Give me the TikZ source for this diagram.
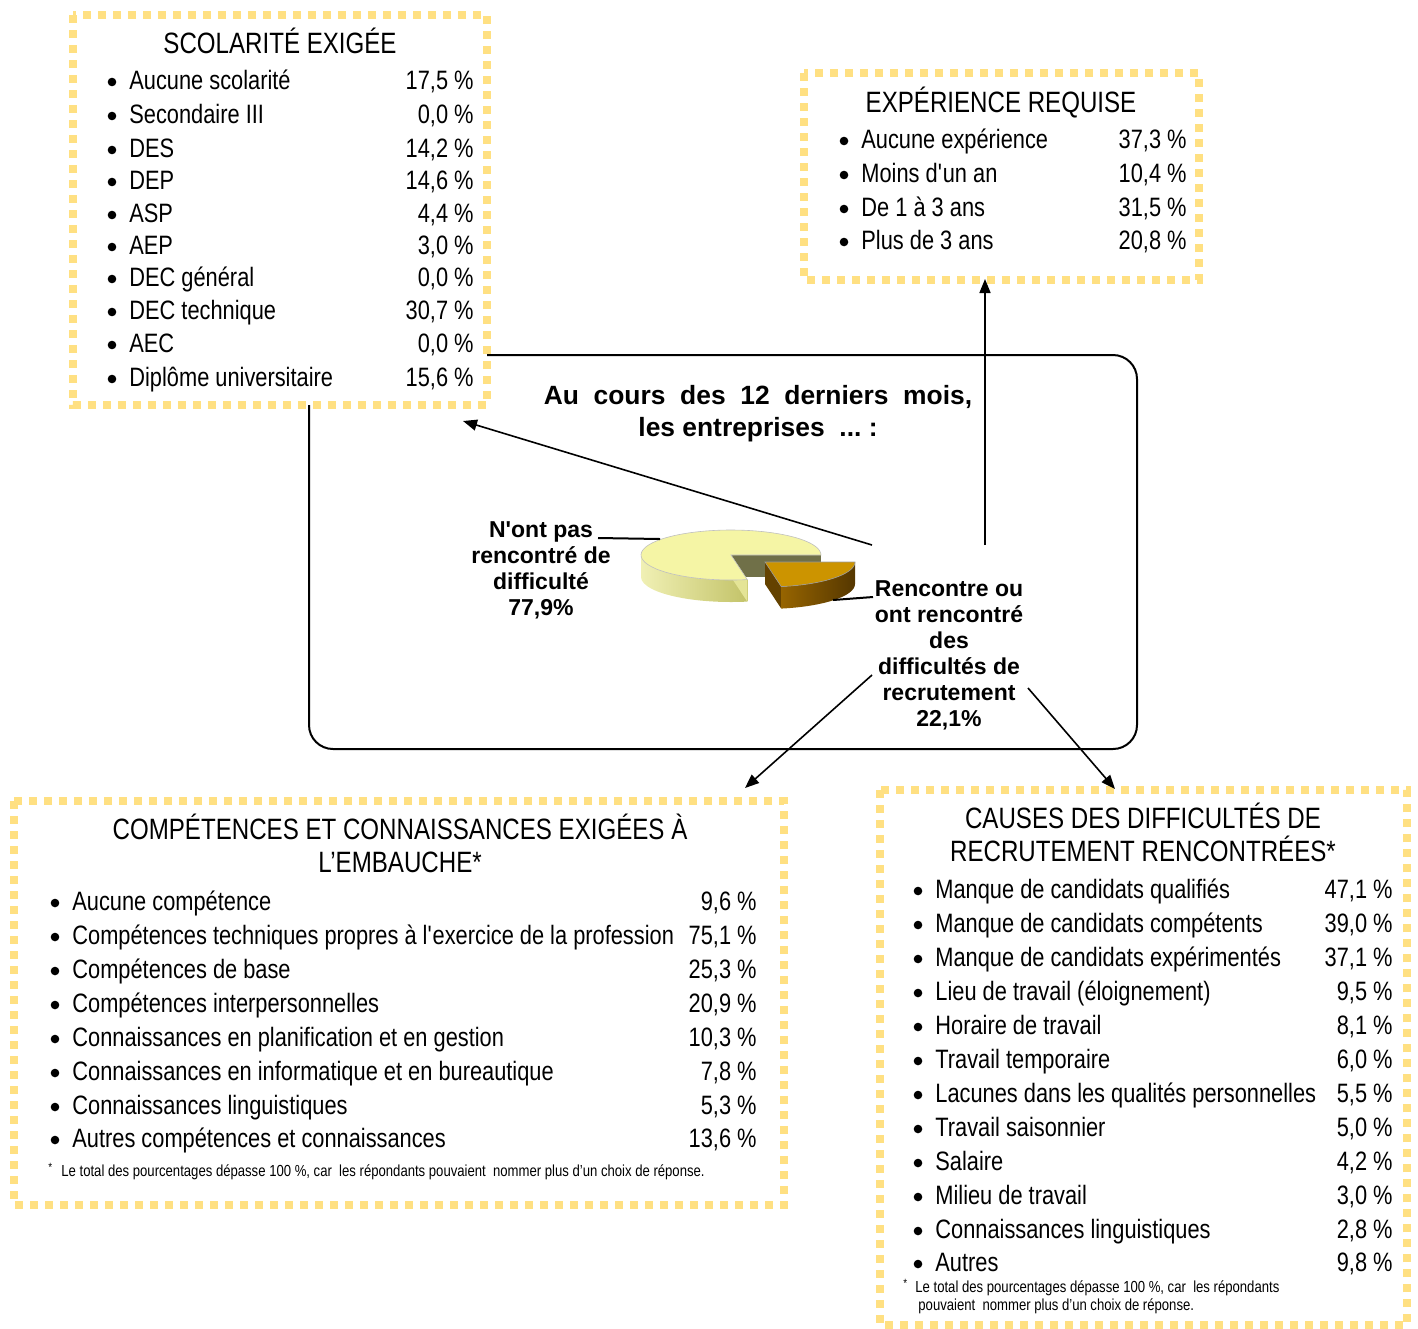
\documentclass[tikz,border=0pt]{standalone}
\usepackage{fontspec}
\setmainfont{Liberation Sans}[FakeStretch=0.82]
\newfontfamily\labfont{Liberation Sans}
\usetikzlibrary{arrows.meta,calc}
\definecolor{dotyel}{RGB}{255,224,130}
\definecolor{pieTop}{RGB}{245,245,165}
\definecolor{pieWallL}{RGB}{240,240,180}
\definecolor{pieWallR}{RGB}{195,195,105}
\definecolor{pieFace}{RGB}{228,228,150}
\definecolor{pieCut}{RGB}{112,112,72}
\definecolor{slTop}{RGB}{204,148,0}
\definecolor{slWallL}{RGB}{150,100,0}
\definecolor{slWallR}{RGB}{85,55,0}
\definecolor{slFace}{RGB}{100,66,0}
\newcommand\fsz{\fontsize{13.3}{16}\selectfont}
\newcommand\tsz{\fontsize{14.7}{17}\selectfont}
\newcommand\apos{\textquotesingle}
\begin{document}
\begin{tikzpicture}[x=0.5pt,y=-0.5pt,
  dotbox/.style={draw=dotyel, line width=4pt, dash pattern=on 4pt off 3.5pt, fill=white},
  itemtxt/.style={font=\fsz, inner sep=0pt, anchor=base west},
  valtxt/.style={font=\fsz, inner sep=0pt, anchor=base east},
  ttltxt/.style={font=\tsz, inner sep=0pt, anchor=base},
  bul/.style={circle, fill=black, inner sep=0pt, minimum size=4.3pt},
  arr/.style={-{Triangle[length=7pt,width=5.5pt]}, line width=0.8pt},
  lab/.style={font=\labfont\bfseries\fontsize{11.5}{13}\selectfont, align=center, inner sep=0pt},
  note/.style={font=\fontsize{8}{9}\selectfont, inner sep=0pt, anchor=base west},
  ell/.style={x radius=90, y radius=25}
]
\useasboundingbox (0,0) rectangle (1418,1328);

% central rounded frame
\draw[line width=1pt, rounded corners=12pt] (309,355) rectangle (1137,749);

% dotted boxes
\draw[dotbox] (73,15) rectangle (487,405);
\draw[dotbox] (804,73) rectangle (1199,280);
\draw[dotbox] (14,801) rectangle (784,1205);
\draw[dotbox] (880,790) rectangle (1407,1325);

% ---- Scolarite
\node[ttltxt] (stitle) at (280,53) {SCOLARITÉ EXIGÉE};
\foreach \t/\v/\y [count=\i] in {
  {Aucune scolarité}/{17,5 \%}/89,
  {Secondaire III}/{0,0 \%}/123,
  {DES}/{14,2 \%}/157,
  {DEP}/{14,6 \%}/189,
  {ASP}/{4,4 \%}/222,
  {AEP}/{3,0 \%}/254,
  {DEC général}/{0,0 \%}/286,
  {DEC technique}/{30,7 \%}/319,
  {AEC}/{0,0 \%}/352,
  {Diplôme universitaire}/{15,6 \%}/386}{
  \node[bul] (sb\i) at (112,\y-7) {};
  \node[itemtxt] (st\i) at (129,\y) {\t};
  \node[valtxt] (sv\i) at (474,\y) {\v};
}

% ---- Experience
\node[ttltxt] (etitle) at (1001,112) {EXPÉRIENCE REQUISE};
\foreach \t/\v/\y [count=\i] in {
  {Aucune expérience}/{37,3 \%}/148,
  {Moins d\apos un an}/{10,4 \%}/182,
  {De 1 à 3 ans}/{31,5 \%}/216,
  {Plus de 3 ans}/{20,8 \%}/249}{
  \node[bul] (eb\i) at (844,\y-7) {};
  \node[itemtxt] (et\i) at (861,\y) {\t};
  \node[valtxt] (ev\i) at (1187,\y) {\v};
}

% ---- Competences
\node[ttltxt] (ctitle1) at (400,839) {COMPÉTENCES ET CONNAISSANCES EXIGÉES À};
\node[ttltxt] (ctitle2) at (400,872) {L’EMBAUCHE*};
\foreach \t/\v/\y [count=\i] in {
  {Aucune compétence}/{9,6 \%}/910,
  {Compétences techniques propres à l\apos exercice de la profession}/{75,1 \%}/944,
  {Compétences de base}/{25,3 \%}/978,
  {Compétences interpersonnelles}/{20,9 \%}/1012,
  {Connaissances en planification et en gestion}/{10,3 \%}/1046,
  {Connaissances en informatique et en bureautique}/{7,8 \%}/1080,
  {Connaissances linguistiques}/{5,3 \%}/1114,
  {Autres compétences et connaissances}/{13,6 \%}/1147}{
  \node[bul] (cb\i) at (55,\y-7) {};
  \node[itemtxt] (ct\i) at (72,\y) {\t};
  \node[valtxt] (cv\i) at (757,\y) {\v};
}
\node[note, font=\fontsize{6}{7}\selectfont] (cstar) at (48,1171) {*};
\node[note] (cnote) at (61,1176) {Le total des pourcentages dépasse 100 \%, car\ \ les répondants pouvaient\ \ nommer plus d’un choix de réponse.};

% ---- Causes
\node[ttltxt] (ktitle1) at (1143,828) {CAUSES DES DIFFICULTÉS DE};
\node[ttltxt] (ktitle2) at (1143,861) {RECRUTEMENT RENCONTRÉES*};
\foreach \t/\v/\y [count=\i] in {
  {Manque de candidats qualifiés}/{47,1 \%}/898,
  {Manque de candidats compétents}/{39,0 \%}/932,
  {Manque de candidats expérimentés}/{37,1 \%}/966,
  {Lieu de travail (éloignement)}/{9,5 \%}/1000,
  {Horaire de travail}/{8,1 \%}/1034,
  {Travail temporaire}/{6,0 \%}/1068,
  {Lacunes dans les qualités personnelles}/{5,5 \%}/1102,
  {Travail saisonnier}/{5,0 \%}/1136,
  {Salaire}/{4,2 \%}/1170,
  {Milieu de travail}/{3,0 \%}/1204,
  {Connaissances linguistiques}/{2,8 \%}/1238,
  {Autres}/{9,8 \%}/1271}{
  \node[bul] (kb\i) at (918,\y-7) {};
  \node[itemtxt] (kt\i) at (935,\y) {\t};
  \node[valtxt] (kv\i) at (1393,\y) {\v};
}
\node[note, font=\fontsize{6}{7}\selectfont] (kstar) at (903,1287) {*};
\node[note] (knote1) at (915,1292) {Le total des pourcentages dépasse 100 \%, car\ \ les répondants};
\node[note] (knote2) at (918,1310) {pouvaient\ \ nommer plus d’un choix de réponse.};

% ---- title in frame
\node[lab, font=\labfont\bfseries\fontsize{13.2}{16}\selectfont] (mtitle) at (758,414)
  {Au\ \ cours\ \ des\ \ 12\ \ derniers\ \ mois,\\les entreprises\ \ ...\ :};

% ---- pie
\coordinate (pc) at (731,555);
\coordinate (pc2) at (765,562);
% main outer wall
\shade[left color=pieWallL, right color=pieWallR]
  ($(pc)+(79.6:90 and 25)$) arc[start angle=79.6, end angle=180, ell]
  -- ++(0,22) arc[start angle=180, end angle=79.6, ell] -- cycle;
% cut face (0 deg)
\fill[pieCut] (pc) -- ++(90,0) -- ++(0,22) -- ($(pc)+(0,22)$) -- cycle;
% cut face (79.6 deg)
\fill[pieFace] (pc) -- ($(pc)+(79.6:90 and 25)$) -- ++(0,22) -- ($(pc)+(0,22)$) -- cycle;
% top
\fill[pieTop, draw=black!25, line width=0.3pt] (pc) -- ($(pc)+(79.6:90 and 25)$)
  arc[start angle=79.6, end angle=360, ell] -- cycle;
% exploded slice
\fill[slFace] (pc2) -- ($(pc2)+(79.6:90 and 25)$) -- ++(0,22) -- ($(pc2)+(0,22)$) -- cycle;
\shade[left color=slWallL, right color=slWallR]
  ($(pc2)+(90,0)$) arc[start angle=0, end angle=79.6, ell]
  -- ++(0,22) arc[start angle=79.6, end angle=0, ell] -- cycle;
\fill[slTop, draw=black!40, line width=0.3pt] (pc2) -- ++(90,0)
  arc[start angle=0, end angle=79.6, ell] -- cycle;

% pie labels
\node[lab] (lno) at (541,570) {N\apos ont pas\\rencontré de\\difficulté\\77,9\%};
\node[lab] (lyes) at (949,655) {Rencontre ou\\ont rencontré\\des\\difficultés de\\recrutement\\22,1\%};
\coordinate (ln1) at (598,538);
\coordinate (ln2) at (660,539);
\coordinate (ly1) at (833,600);
\coordinate (ly2) at (873,597);
\draw[line width=1pt] (ln1) -- (ln2);
\draw[line width=1pt] (ly1) -- (ly2);

% arrows
\coordinate (a1s) at (872,545); \coordinate (a1e) at (463,421);
\coordinate (a2s) at (985,545); \coordinate (a2e) at (985,279);
\coordinate (a3s) at (872,675); \coordinate (a3e) at (745,788);
\coordinate (a4s) at (1028,688); \coordinate (a4e) at (1115,789);
\draw[arr] (a1s) -- (a1e);
\draw[arr] (a2s) -- (a2e);
\draw[arr] (a3s) -- (a3e);
\draw[arr] (a4s) -- (a4e);
\end{tikzpicture}
\end{document}
